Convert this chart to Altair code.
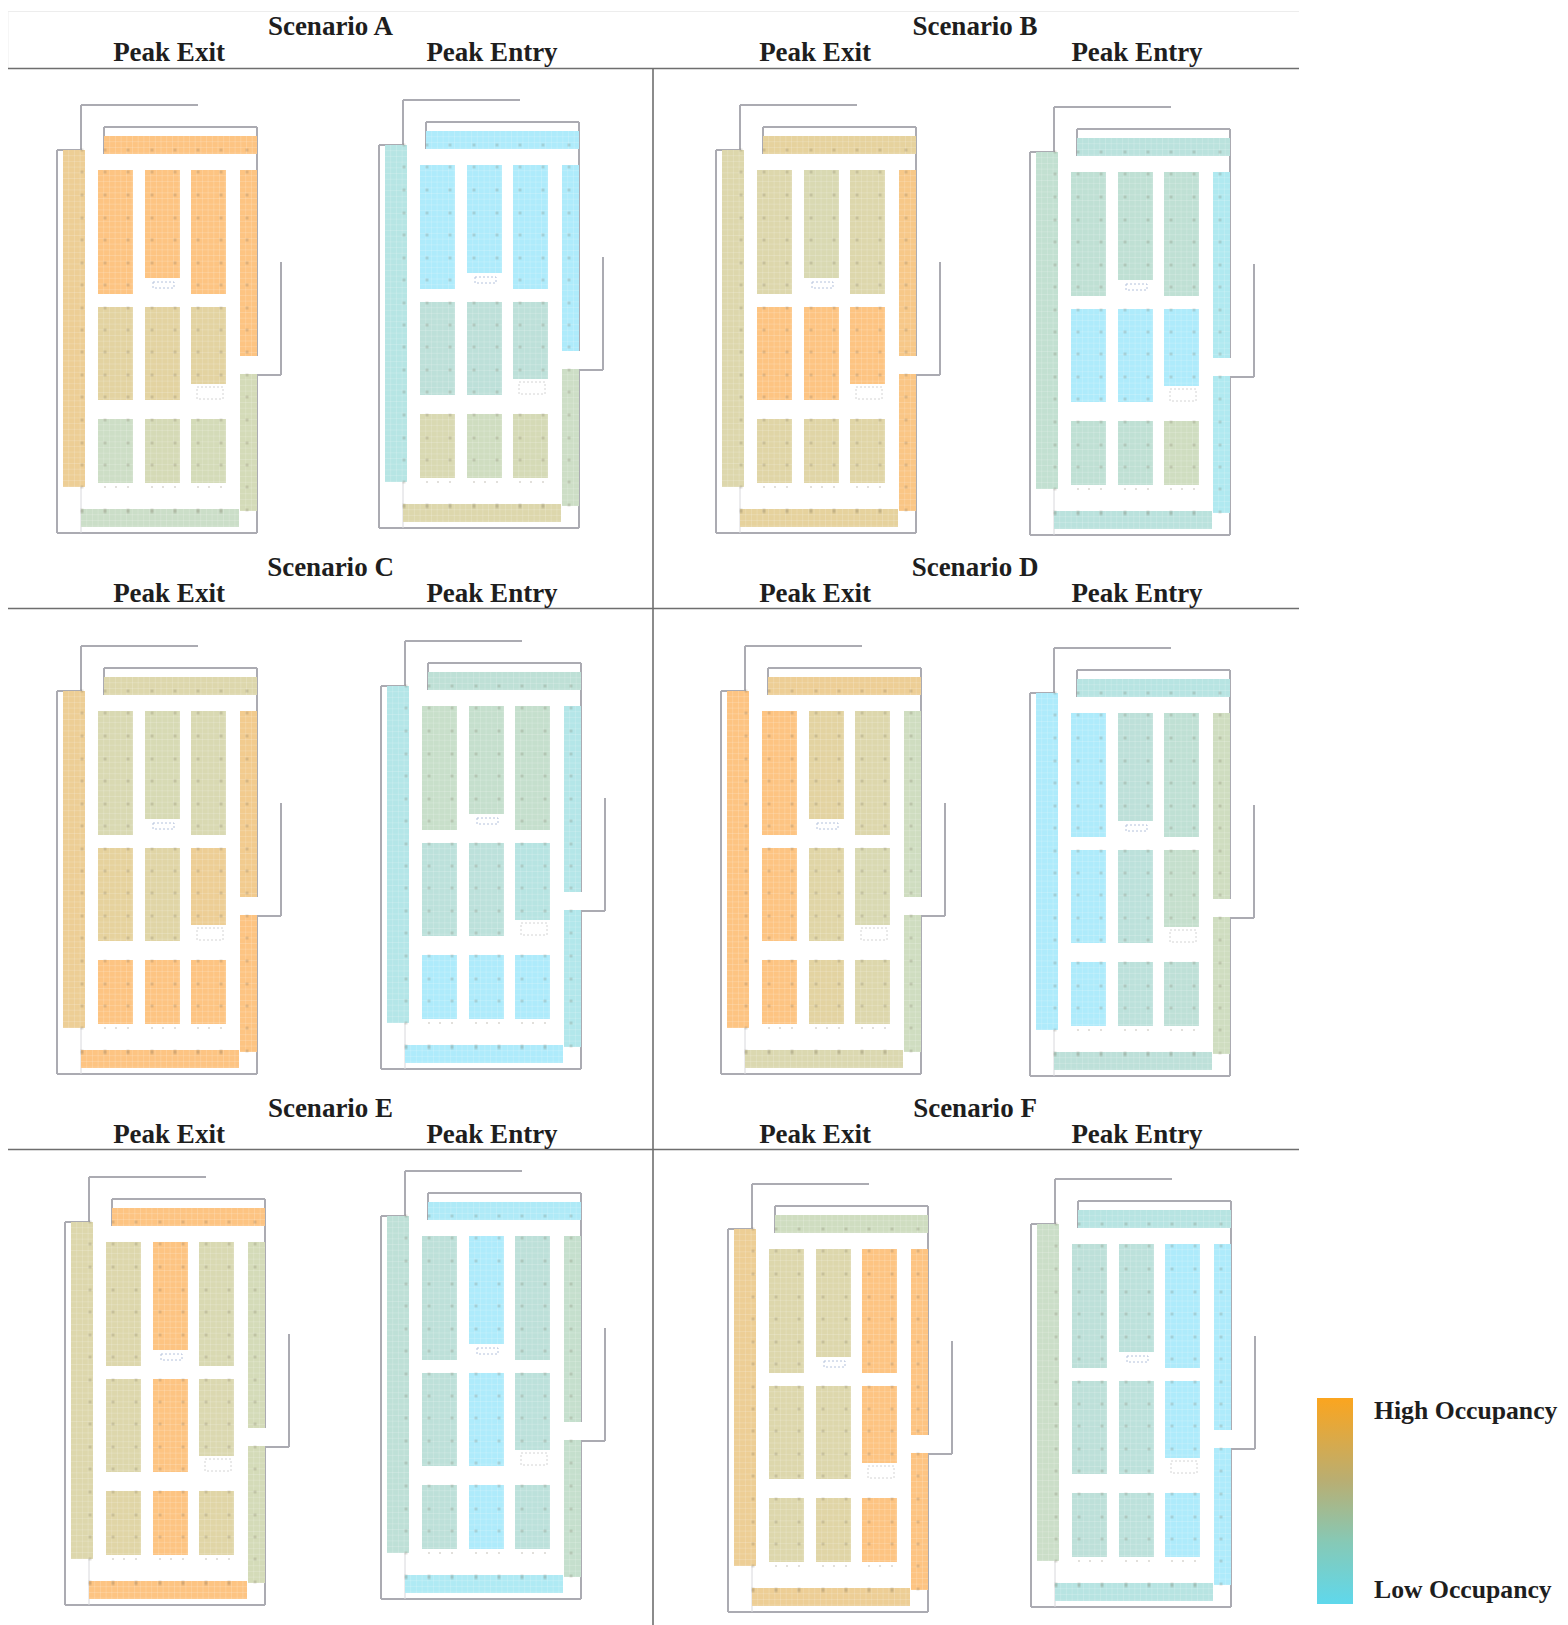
import altair as alt
import pandas as pd

# plan order: A exit, A entry, B exit, B entry, ... F entry
PLAN_NAMES = ["A exit","A entry","B exit","B entry","C exit","C entry","D exit","D entry","E exit","E entry","F exit","F entry"]
PLAN_DX = [0, 322, 659, 973, 0, 324, 664, 973, 8, 324, 671, 974]
PLAN_DY = [0, -5, 0, 2, 541, 536, 541, 543, 1072, 1066, 1079, 1074]

BLOCK_NAMES = ["top","left","r1c1","r1c2","r1c3","rightU","r2c1","r2c2","r2c3","rightL","r3c1","r3c2","r3c3","bottom"]
BLOCK_X1 = [104, 63, 98, 145, 191, 240, 98, 145, 191, 240, 98, 145, 191, 81]
BLOCK_X2 = [257, 85, 133, 180, 226, 257, 133, 180, 226, 257, 133, 180, 226, 239]
BLOCK_Y1 = [136, 150, 170, 170, 170, 170, 307, 307, 307, 374, 419, 419, 419, 509]
BLOCK_Y2 = [154, 487, 294, 278, 294, 356, 400, 400, 384, 511, 483, 483, 483, 527]

OCCUPANCY = {
    "A exit":  [1, .85, 1, 1, 1, 1, .78, .78, .78, .62, .5, .64, .62, .48],
    "A entry": [0, .18, 0, 0, 0, 0, .3, .3, .3, .5, .68, .55, .64, .72],
    "B exit":  [.8, .72, .72, .68, .72, .95, 1, 1, 1, .97, .75, .75, .75, .8],
    "B entry": [.25, .38, .35, .35, .35, .08, 0, 0, 0, .08, .35, .35, .55, .25],
    "C exit":  [.72, .85, .68, .66, .68, .9, .8, .75, .85, 1, 1, 1, 1, 1],
    "C entry": [.33, .15, .45, .42, .42, .15, .28, .28, .2, .12, 0, 0, 0, 0],
    "D exit":  [.85, 1, 1, .78, .72, .55, 1, .75, .68, .55, 1, .78, .72, .7],
    "D entry": [.2, 0, 0, .3, .35, .55, 0, .28, .42, .55, 0, .28, .32, .3],
    "E exit":  [1, .72, .72, 1, .68, .62, .72, 1, .7, .62, .75, 1, .75, 1],
    "E entry": [.03, .32, .3, 0, .3, .42, .3, 0, .28, .42, .3, 0, .28, .05],
    "F exit":  [.55, .85, .72, .72, 1, 1, .72, .72, 1, 1, .72, .75, 1, .85],
    "F entry": [.2, .48, .3, .28, 0, 0, .3, .28, 0, 0, .3, .28, 0, .2],
}
OCC_DOMAIN = [0, .3, .5, .7, .85, 1]
OCC_RANGE = ["#AEEBFB", "#BDE0D9", "#CDDEC6", "#DBD8B0", "#EDCE95", "#FDC482"]

WALLS = [(81,105,198,105),(81,105,81,150),(57,150,81,150),(57,150,57,533),(57,533,257,533),
         (257,374,257,533),(257,375,281,375),(281,262,281,375),(104,127,257,127),(104,127,104,154),
         (257,127,257,356)]
THIN_WALLS = [(81,487,81,533)]
DOT_X = [82,105,128,152,175,198,221,247]
DOT_Y = [150,172,195,218,240,263,285,308,330,352,375,397,420,443,465,487,510,512]
ROW_TICK_X = [105,116,128,152,163,175,198,209,221]
ROW_TICK_Y = 487
GRID_STEP = 5.7
FIXTURES = [(153,282,174,288,"#B4C2DC"),(197,387,223,399,"#D4D4D4")]

FRAME = [(8,68.5,1299,68.5),(8,608.5,1299,608.5),(8,1149.5,1299,1149.5),(653,68.5,653,1625)]
FAINT = [(8,11.5,1299,11.5),(8,11.5,8,68)]

HEADERS = ["Scenario A","Peak Exit","Peak Entry","Scenario B","Peak Exit","Peak Entry",
           "Scenario C","Peak Exit","Peak Entry","Scenario D","Peak Exit","Peak Entry",
           "Scenario E","Peak Exit","Peak Entry","Scenario F","Peak Exit","Peak Entry"]
HEADER_X = [330.5,169,492,975,815,1137]*3
HEADER_Y = [27,53,53,27,53,53,568,594,594,568,594,594,1109,1135,1135,1109,1135,1135]

LEGEND_LABELS = ["High Occupancy","Low Occupancy"]
LEGEND_LABEL_X = [1374,1374]
LEGEND_LABEL_Y = [1411,1590]
LEGEND_BAR = (1317,1398,1353,1604)

blocks, grid, dots, walls, thin, fixtures = [], [], [], [], [], []
for name, dx, dy in zip(PLAN_NAMES, PLAN_DX, PLAN_DY):
    occ = OCCUPANCY[name]
    for i in range(len(BLOCK_NAMES)):
        x1, x2, y1, y2 = BLOCK_X1[i], BLOCK_X2[i], BLOCK_Y1[i], BLOCK_Y2[i]
        blocks.append(dict(x=x1+dx, x2=x2+dx, y=y1+dy, y2=y2+dy, occ=occ[i]))
        gx = x1 + GRID_STEP
        while gx < x2:
            grid.append(dict(x=gx+dx, x2=gx+dx, y=y1+dy, y2=y2+dy)); gx += GRID_STEP
        gy = y1 + GRID_STEP
        while gy < y2:
            grid.append(dict(x=x1+dx, x2=x2+dx, y=gy+dy, y2=gy+dy)); gy += GRID_STEP
        for px in DOT_X:
            for py in DOT_Y:
                if x1 <= px <= x2 and y1 <= py <= y2:
                    dots.append(dict(x=px+dx-1.5, x2=px+dx+1.5, y=py+dy-1.5, y2=py+dy+1.5))
    for a, b, c, d in WALLS:
        walls.append(dict(x=a+dx, y=b+dy, x2=c+dx, y2=d+dy))
    for a, b, c, d in THIN_WALLS:
        thin.append(dict(x=a+dx, y=b+dy, x2=c+dx, y2=d+dy))
    for a, b, c, d, col in FIXTURES:
        fixtures.append(dict(x=a+dx, y=b+dy, x2=c+dx, y2=d+dy, col=col))
    for px in ROW_TICK_X:
        dots.append(dict(x=px+dx-1, x2=px+dx+1, y=ROW_TICK_Y+dy-1, y2=ROW_TICK_Y+dy+1))

X = alt.X("x:Q", scale=alt.Scale(domain=[8, 1560], nice=False, zero=False), axis=None)
Y = alt.Y("y:Q", scale=alt.Scale(domain=[1625, 8], nice=False, zero=False), axis=None)
X2 = alt.X2("x2")
Y2 = alt.Y2("y2")

def seg_frame(items):
    return pd.DataFrame(items, columns=["x", "y", "x2", "y2"])

faint_l = alt.Chart(seg_frame(FAINT)).mark_rule(color="#EDEDED", strokeWidth=1).encode(x=X, y=Y, x2=X2, y2=Y2)
frame_l = alt.Chart(seg_frame(FRAME)).mark_rule(color="#6E6E6E", strokeWidth=1.6).encode(x=X, y=Y, x2=X2, y2=Y2)
walls_l = alt.Chart(pd.DataFrame(walls)).mark_rule(color="#ABABB2", strokeWidth=2).encode(x=X, y=Y, x2=X2, y2=Y2)
thin_l = alt.Chart(pd.DataFrame(thin)).mark_rule(color="#D8D8DC", strokeWidth=1).encode(x=X, y=Y, x2=X2, y2=Y2)
blocks_l = alt.Chart(pd.DataFrame(blocks)).mark_rect().encode(
    x=X, y=Y, x2=X2, y2=Y2,
    color=alt.Color("occ:Q", legend=None, scale=alt.Scale(domain=OCC_DOMAIN, range=OCC_RANGE)))
grid_l = alt.Chart(pd.DataFrame(grid)).mark_rule(color="#FFFFFF", strokeWidth=0.8, opacity=0.22).encode(x=X, y=Y, x2=X2, y2=Y2)
dots_l = alt.Chart(pd.DataFrame(dots)).mark_rect(color="#6E6650", opacity=0.2).encode(x=X, y=Y, x2=X2, y2=Y2)
fixtures_l = alt.Chart(pd.DataFrame(fixtures)).mark_rect(fillOpacity=0, strokeWidth=1, strokeDash=[2, 2]).encode(
    x=X, y=Y, x2=X2, y2=Y2, stroke=alt.Stroke("col:N", scale=None, legend=None))
head_l = alt.Chart(pd.DataFrame(dict(x=HEADER_X, y=HEADER_Y, t=HEADERS))).mark_text(
    font="Liberation Serif", fontWeight="bold", fontSize=27, color="#1E1E1E", baseline="middle", align="center"
).encode(x=X, y=Y, text="t:N")
legbar_l = alt.Chart(pd.DataFrame([dict(x=LEGEND_BAR[0], y=LEGEND_BAR[1], x2=LEGEND_BAR[2], y2=LEGEND_BAR[3])])).mark_rect(
    color=alt.Gradient(gradient="linear", x1=0, y1=0, x2=0, y2=1, stops=[
        alt.GradientStop(color="#FBA51F", offset=0),
        alt.GradientStop(color="#B9AE72", offset=0.4),
        alt.GradientStop(color="#86C9B6", offset=0.7),
        alt.GradientStop(color="#5FD8EC", offset=1)])
).encode(x=X, y=Y, x2=X2, y2=Y2)
leglab_l = alt.Chart(pd.DataFrame(dict(x=LEGEND_LABEL_X, y=LEGEND_LABEL_Y, t=LEGEND_LABELS))).mark_text(
    font="Liberation Serif", fontWeight="bold", fontSize=25.7, color="#1E1E1E", baseline="middle", align="left"
).encode(x=X, y=Y, text="t:N")

chart = alt.layer(faint_l, walls_l, thin_l, blocks_l, grid_l, dots_l, fixtures_l, frame_l, head_l, legbar_l, leglab_l).properties(
    width=1552, height=1617, padding=0, autosize=alt.AutoSizeParams(type="none"), background="white"
).configure_view(stroke=None)

chart.save("out.html", embed_options={"renderer": "svg", "actions": False})
